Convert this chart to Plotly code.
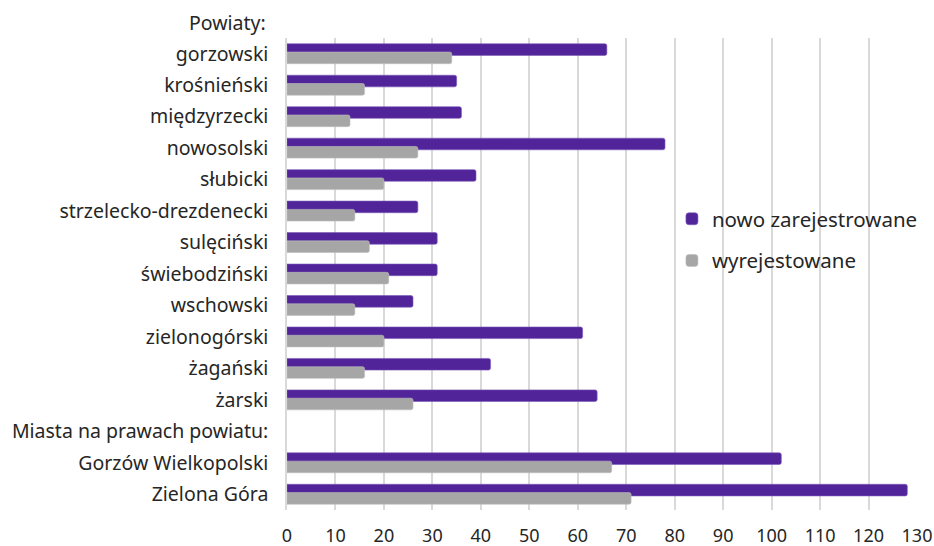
import plotly.graph_objects as go

categories = ["gorzowski", "krośnieński", "międzyrzecki", "nowosolski", "słubicki",
              "strzelecko-drezdenecki", "sulęciński", "świebodziński", "wschowski",
              "zielonogórski", "żagański", "żarski", "Miasta na prawach powiatu:",
              "Gorzów Wielkopolski", "Zielona Góra"]
nowo = [66, 35, 36, 78, 39, 27, 31, 31, 26, 61, 42, 64, None, 102, 128]
wyrej = [34, 16, 13, 27, 20, 14, 17, 21, 14, 20, 16, 26, None, 67, 71]
x_ticks = list(range(0, 131, 10))

FONT = "Noto Sans"
TXT = "#262626"

fig = go.Figure()
fig.add_trace(go.Bar(
    y=categories, x=nowo, orientation="h", name="nowo zarejestrowane",
    marker=dict(color="#52249A", line=dict(color="#7A5AB8", width=0.6)),
    width=0.37, offset=-0.317, legendgroup="a",
))
fig.add_trace(go.Bar(
    y=categories, x=wyrej, orientation="h", name="wyrejestowane",
    marker=dict(color="#A6A6A6", line=dict(color="#BEBEBE", width=0.6)),
    width=0.37, offset=-0.053, legendgroup="b",
))

fig.update_layout(
    width=934, height=546,
    margin=dict(l=287, r=17, t=38, b=36, autoexpand=False),
    paper_bgcolor="white", plot_bgcolor="white",
    barmode="overlay", barcornerradius=2,
    font=dict(family=FONT, size=20, color=TXT),
    showlegend=True,
    legend=dict(x=0.611, y=0.659, xanchor="left", yanchor="top",
                bgcolor="rgba(0,0,0,0)", font=dict(size=20.5, color=TXT),
                tracegroupgap=12, itemwidth=30),
    annotations=[dict(text="Powiaty:", xref="paper", yref="paper", x=0, y=1,
                      xanchor="right", yanchor="middle", xshift=-19, yshift=16,
                      showarrow=False, font=dict(size=19.5, color=TXT, family=FONT))],
)
fig.update_xaxes(range=[0, 130], tickvals=x_ticks, showgrid=True,
                 gridcolor="#D9D9D9", gridwidth=1.5, zeroline=False,
                 showline=False, ticklabelstandoff=13, automargin=False,
                 tickfont=dict(size=18, color=TXT))
fig.update_yaxes(categoryorder="array", categoryarray=categories,
                 range=[14.5, -0.5], showgrid=False, zeroline=False,
                 showline=True, linecolor="#D9D9D9", linewidth=1.5,
                 ticklabelstandoff=13, automargin=False,
                 tickfont=dict(size=19.5, color=TXT))

# remove the default 8px page margin so the 934x546 figure fills the window
fig.write_html("out.html",
               config={"displayModeBar": False},
               post_script="document.body.style.margin='0';"
                           "document.body.style.overflow='hidden';")
